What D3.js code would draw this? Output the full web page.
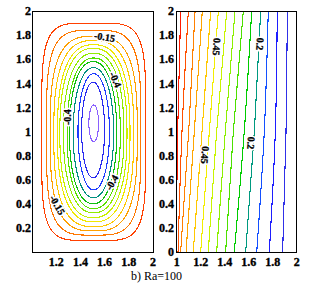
<!DOCTYPE html>
<html>
<head>
<meta charset="utf-8">
<script src="https://cdn.jsdelivr.net/npm/d3@7"></script>
<style>
  body { margin: 0; background: #fff; }
</style>
</head>
<body>
<div id="container"></div>
<script>
// ---- left panel: streamlines (closed contours, outer -> inner)
const streamLevels = [-0.05, -0.1, -0.15, -0.2, -0.25, -0.3, -0.35, -0.4, -0.45, -0.5, -0.55, -0.6, -0.65];
const streamLeft   = [1.08, 1.12, 1.15, 1.18, 1.21, 1.23, 1.26, 1.29, 1.31, 1.34, 1.38, 1.41, 1.47];
const streamRight  = [1.94, 1.90, 1.87, 1.84, 1.81, 1.785, 1.76, 1.73, 1.70, 1.675, 1.64, 1.60, 1.55];
const streamTop    = [1.90, 1.84, 1.79, 1.755, 1.72, 1.69, 1.65, 1.61, 1.58, 1.53, 1.48, 1.41, 1.22];
const streamBottom = [0.095, 0.14, 0.175, 0.21, 0.25, 0.285, 0.325, 0.36, 0.40, 0.45, 0.515, 0.615, 0.915];
const streamSquare = [4.7, 3.8, 3.0, 2.7, 2.5, 2.4, 2.3, 2.25, 2.2, 2.1, 2.05, 2.0, 2.0];
const streamColors = ["#ff4000", "#ff7800", "#ffa000", "#ffc800", "#f0e800", "#c8f000", "#90ec00",
                      "#58e000", "#10c010", "#009080", "#1e3cff", "#2a2af0", "#8a60ff"];
const streamLabels = [
  {text: "-0.15", x: 1.60, y: 1.785, angle: 9},
  {text: "-0.4",  x: 1.69, y: 1.43,  angle: 66},
  {text: "-0.4",  x: 1.295, y: 1.12, angle: -90},
  {text: "-0.4",  x: 1.66, y: 0.577, angle: -60},
  {text: "-0.15", x: 1.21, y: 0.39,  angle: 60}
];

// ---- right panel: isotherms, x read at tempY heights (left -> right)
const tempLevels = [0.7, 0.65, 0.6, 0.55, 0.5, 0.45, 0.4, 0.35, 0.3, 0.25, 0.2, 0.15, 0.1, 0.05];
const tempY = [0, 1, 2];
const tempX = [
  [0.994, 1.008, 1.033],
  [1.011, 1.044, 1.097],
  [1.033, 1.100, 1.153],
  [1.078, 1.147, 1.213],
  [1.138, 1.211, 1.283],
  [1.200, 1.272, 1.347],
  [1.263, 1.333, 1.417],
  [1.333, 1.405, 1.486],
  [1.408, 1.472, 1.555],
  [1.480, 1.563, 1.625],
  [1.575, 1.647, 1.700],
  [1.667, 1.730, 1.763],
  [1.772, 1.822, 1.838],
  [1.883, 1.911, 1.922]
];
const tempColors = ["#ff1a00", "#ff5000", "#ff8000", "#ffa500", "#ffc800", "#f2ee00", "#c8f500",
                    "#8cf000", "#4ce000", "#00cc00", "#009a80", "#1450ff", "#1e1eff", "#3030e8"];
const tempLabels = [
  {text: "0.45", x: 1.333, y: 1.704, angle: 94},
  {text: "0.45", x: 1.236, y: 0.805, angle: 94},
  {text: "0.2",  x: 1.694, y: 1.726, angle: 94},
  {text: "0.2",  x: 1.619, y: 0.905, angle: 94}
];

const leftXTicks = [1.2, 1.4, 1.6, 1.8, 2];
const leftYTicks = [0.2, 0.4, 0.6, 0.8, 1, 1.2, 1.4, 1.6, 1.8, 2];
const rightXTicks = [1, 1.2, 1.4, 1.6, 1.8, 2];
const rightYTicks = [0, 0.2, 0.4, 0.6, 0.8, 1, 1.2, 1.4, 1.6, 1.8, 2];
const caption = "b) Ra=100";

const width = 309, height = 290;
const serif = "'Liberation Serif', 'Times New Roman', 'DejaVu Serif', serif";

const svg = d3.select("#container").append("svg")
    .attr("width", width)
    .attr("height", height)
    .attr("font-family", serif);

const yScale = d3.scaleLinear().domain([0, 2]).range([252, 11]);
const xLeft = d3.scaleLinear().domain([1, 2]).range([32, 153]);
const xRight = d3.scaleLinear().domain([1, 2]).range([176.7, 296.7]);

function panel(id, x) {
    svg.append("clipPath").attr("id", id)
        .append("rect")
        .attr("x", x(1)).attr("y", yScale(2))
        .attr("width", x(2) - x(1)).attr("height", yScale(0) - yScale(2));
    return svg.append("g").attr("clip-path", "url(#" + id + ")");
}

// superellipse outline of one streamline, in data space
function loop(i) {
    const cx = (streamLeft[i] + streamRight[i]) / 2;
    const a = (streamRight[i] - streamLeft[i]) / 2;
    const cy = (streamTop[i] + streamBottom[i]) / 2;
    const e = 2 / streamSquare[i];
    return d3.range(0, 2 * Math.PI, Math.PI / 90).map(t => {
        const c = Math.cos(t), s = Math.sin(t);
        const b = s > 0 ? streamTop[i] - cy : cy - streamBottom[i];
        return [cx + a * Math.sign(c) * Math.pow(Math.abs(c), e),
                cy + b * Math.sign(s) * Math.pow(Math.abs(s), e)];
    });
}

const gLeft = panel("clipL", xLeft);
const loopLine = d3.line()
    .x(d => xLeft(d[0]))
    .y(d => yScale(d[1]))
    .curve(d3.curveLinearClosed);

gLeft.selectAll("path")
    .data(streamLevels)
    .enter().append("path")
    .attr("d", (d, i) => loopLine(loop(i)))
    .attr("fill", "none")
    .attr("stroke", (d, i) => streamColors[i])
    .attr("stroke-width", 1.1)
    .attr("shape-rendering", "crispEdges");

const gRight = panel("clipR", xRight);
const isoLine = d3.line()
    .x(d => xRight(d[0]))
    .y(d => yScale(d[1]))
    .curve(d3.curveNatural);

gRight.selectAll("path")
    .data(tempLevels)
    .enter().append("path")
    .attr("d", (d, i) => isoLine(tempX[i].map((v, j) => [v, tempY[j]])))
    .attr("fill", "none")
    .attr("stroke", (d, i) => tempColors[i])
    .attr("stroke-width", 1.1)
    .attr("shape-rendering", "crispEdges");

function contourLabels(g, labels, x) {
    const lab = g.selectAll("g.lab")
        .data(labels)
        .enter().append("g")
        .attr("class", "lab")
        .attr("transform", d => "translate(" + x(d.x) + "," + yScale(d.y) + ") rotate(" + d.angle + ")");
    lab.append("text")
        .attr("text-anchor", "middle")
        .attr("dy", "0.35em")
        .attr("font-size", 10)
        .attr("font-weight", "bold")
        .attr("stroke", "#fff")
        .attr("stroke-width", 3.4)
        .text(d => d.text);
    lab.append("text")
        .attr("text-anchor", "middle")
        .attr("dy", "0.35em")
        .attr("font-size", 10)
        .attr("font-weight", "bold")
        .attr("stroke", "#000")
        .attr("stroke-width", 0.3)
        .text(d => d.text);
}
contourLabels(gLeft, streamLabels, xLeft);
contourLabels(gRight, tempLabels, xRight);

function frame(x, xTicks, yTicks, yLabelX) {
    svg.append("rect")
        .attr("x", x(1)).attr("y", yScale(2))
        .attr("width", x(2) - x(1)).attr("height", yScale(0) - yScale(2))
        .attr("fill", "none")
        .attr("stroke", "#000")
        .attr("stroke-width", 1)
        .attr("shape-rendering", "crispEdges");

    svg.append("g").selectAll("text")
        .data(xTicks)
        .enter().append("text")
        .attr("x", d => x(d))
        .attr("y", 266)
        .attr("text-anchor", "middle")
        .attr("font-size", 12)
        .attr("font-weight", "bold")
        .attr("stroke", "#000")
        .attr("stroke-width", 0.35)
        .text(d => d3.format("")(d));

    svg.append("g").selectAll("text")
        .data(yTicks)
        .enter().append("text")
        .attr("x", yLabelX)
        .attr("y", d => yScale(d))
        .attr("dy", "0.35em")
        .attr("text-anchor", "end")
        .attr("font-size", 12)
        .attr("font-weight", "bold")
        .attr("stroke", "#000")
        .attr("stroke-width", 0.35)
        .text(d => d3.format("")(d));
}
frame(xLeft, leftXTicks, leftYTicks, 31);
frame(xRight, rightXTicks, rightYTicks, 174);

svg.append("text")
    .attr("x", 156.5)
    .attr("y", 280)
    .attr("text-anchor", "middle")
    .attr("font-size", 12)
    .text(caption);
</script>
</body>
</html>
